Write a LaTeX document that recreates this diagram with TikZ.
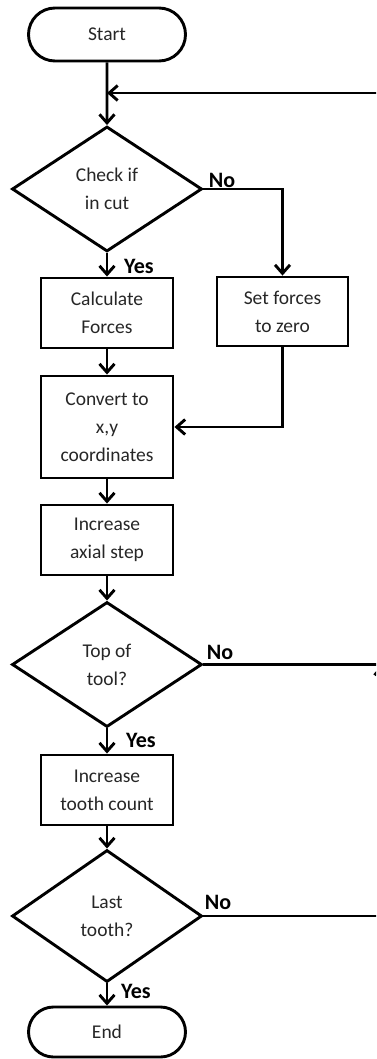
\documentclass[tikz,border=0pt]{standalone}
\usepackage{fontspec}
\setmainfont{Carlito}
\usetikzlibrary{arrows.meta,shapes.geometric,shapes.misc}
\begin{document}
\begin{tikzpicture}[x=1pt,y=-1pt,
  line width=2.9pt,
  every node/.style={font=\fontsize{19.5}{28}\selectfont, text=black!85, align=center},
  proc/.style={draw=black, rectangle, minimum width=132pt, inner sep=0pt},
  term/.style={draw=black, rounded rectangle, minimum width=157pt, minimum height=53pt, inner sep=0pt},
  decision/.style={draw=black, diamond, minimum width=190pt, inner sep=0pt},
  lbl/.style={font=\fontsize{22}{24}\selectfont\bfseries, text=black},
  flow/.style={-{Straight Barb[length=8.5pt,width=15pt]}}
]
\path[use as bounding box, clip] (0,0) rectangle (376,1059);

% main column
\node[term] (start) at (107,34.5) {Start};
\node[decision, minimum height=125pt] (cut) at (107,189) {Check if\\in cut};
\node[proc, minimum height=70pt] (calc) at (107,313) {Calculate\\Forces};
\node[proc, minimum height=69pt, minimum width=131pt] (zero) at (282.5,311.5) {Set forces\\to zero};
\node[proc, minimum height=102pt] (conv) at (107,427) {Convert to\\x,y\\coordinates};
\node[proc, minimum height=70pt] (axial) at (107,540) {Increase\\axial step};
\node[decision, minimum height=125pt] (top) at (107,664.5) {Top of\\tool?};
\node[proc, minimum height=70pt] (tooth) at (107,790) {Increase\\tooth count};
\node[decision, minimum height=132pt] (last) at (107,916) {Last\\tooth?};
\node[term, minimum height=50pt] (end) at (107,1032) {End};

% branch labels
\node[lbl] (yes1) at (139,266) {Yes};
\node[lbl] (no1) at (222,180) {No};
\node[lbl] (yes2) at (141,740) {Yes};
\node[lbl] (no2) at (220,652) {No};
\node[lbl] (yes3) at (136,991) {Yes};
\node[lbl] (no3) at (218,902) {No};

% return loop
\coordinate (loopin) at (107,93);
\coordinate (rt) at (382,93);
\coordinate (rm) at (382,664.5);

% connectors
\draw[flow] (start) -- (cut);
\draw[flow] (rt) -- (loopin);
\draw[flow] (cut) -- (calc);
\draw[flow] (cut.east) -| (zero);
\draw[flow] (zero) |- (conv.east);
\draw[flow] (calc) -- (conv);
\draw[flow] (conv) -- (axial);
\draw[flow] (axial) -- (top);
\draw[flow] (top) -- (tooth);
\draw[flow] (tooth) -- (last);
\draw[flow] (last) -- (end);
\draw (top.east) -- (rm);
\draw[flow] (last.east) -| (rm);
\draw (rm) -- (rt);
\end{tikzpicture}
\end{document}
